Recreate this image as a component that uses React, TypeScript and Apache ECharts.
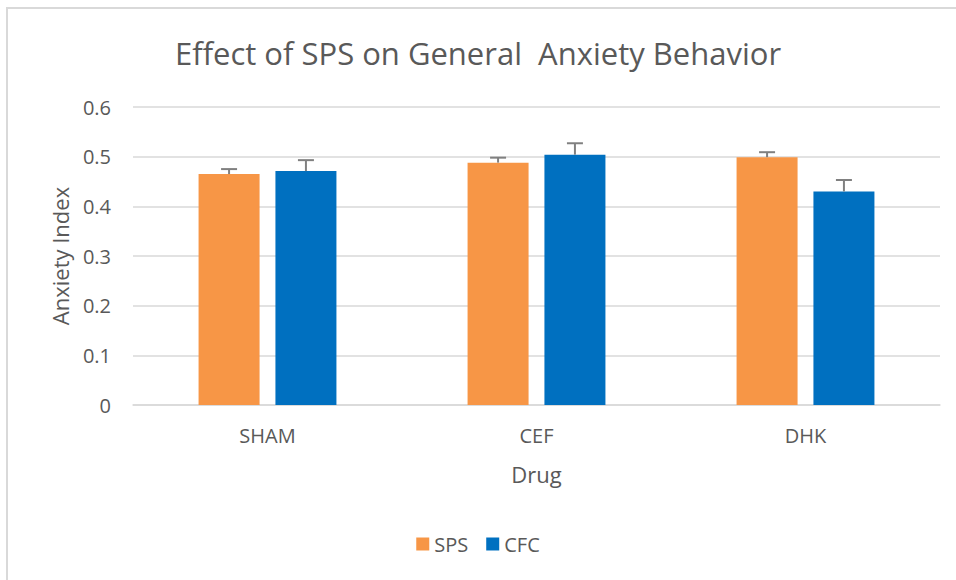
import React, { useEffect, useRef } from "react";
import * as echarts from "echarts";

const categories = ["SHAM", "CEF", "DHK"];
const spsValues = [0.465, 0.488, 0.499];
const spsErrors = [0.01, 0.01, 0.01];
const cfcValues = [0.471, 0.504, 0.43];
const cfcErrors = [0.022, 0.023, 0.023];
const seriesNames = ["SPS", "CFC"];
const yTicks = { min: 0, max: 0.6, interval: 0.1 };

const FONT = "'Open Sans', 'Noto Sans', sans-serif";
const TEXT = "#595959";
const BAR_W = 61;
const BAR_GAP = "26%";

function errorSeries(name: string, values: number[], errs: number[], seriesIndex: number) {
  const data = values.map((v, i) => [i, v, v + errs[i]]);
  return {
    type: "custom",
    name: name + "-err",
    silent: true,
    z: 5,
    renderItem: (params: any, api: any) => {
      const idx = api.value(0);
      const top = api.coord([idx, api.value(2)]);
      const base = api.coord([idx, api.value(1)]);
      const gapPx = BAR_W * 0.26;
      const total = BAR_W * 2 + gapPx;
      const offset = -total / 2 + BAR_W / 2 + seriesIndex * (BAR_W + gapPx);
      const x = top[0] + offset;
      const cap = 8;
      const style = { stroke: "#808080", lineWidth: 2 };
      return {
        type: "group",
        children: [
          { type: "line", shape: { x1: x, y1: base[1], x2: x, y2: top[1] }, style },
          { type: "line", shape: { x1: x - cap, y1: top[1], x2: x + cap, y2: top[1] }, style },
        ],
      };
    },
    data,
  };
}

export default function App() {
  const ref = useRef<HTMLDivElement>(null);
  useEffect(() => {
    if (!ref.current) return;
    const chart = echarts.init(ref.current, undefined, { renderer: "svg" });
    chart.setOption({
      animation: false,
      backgroundColor: "#ffffff",
      textStyle: { fontFamily: FONT },
      graphic: [
        {
          type: "rect",
          shape: { x: 7, y: 8, width: 1000, height: 700 },
          style: { fill: "none", stroke: "#d9d9d9", lineWidth: 2 },
          silent: true,
        },
      ],
      title: {
        text: "Effect of SPS on General  Anxiety Behavior",
        left: "center",
        top: 32,
        textStyle: { fontFamily: FONT, fontSize: 31, fontWeight: "normal", color: TEXT },
      },
      legend: {
        data: seriesNames,
        bottom: 21,
        left: "center",
        itemWidth: 13,
        itemHeight: 13,
        itemGap: 18,
        icon: "rect",
        textStyle: { fontFamily: FONT, fontSize: 20, color: TEXT },
      },
      grid: { left: 133, right: 16, top: 107, bottom: 175 },
      xAxis: {
        type: "category",
        data: categories,
        name: "Drug",
        nameLocation: "middle",
        nameGap: 58,
        nameTextStyle: { fontFamily: FONT, fontSize: 22, color: TEXT },
        axisTick: { show: false },
        axisLine: { lineStyle: { color: "#d9d9d9", width: 1.5 } },
        axisLabel: { fontFamily: FONT, fontSize: 20, color: TEXT, margin: 20 },
      },
      yAxis: {
        type: "value",
        min: yTicks.min,
        max: yTicks.max,
        interval: yTicks.interval,
        name: "Anxiety Index",
        nameLocation: "middle",
        nameGap: 62,
        nameTextStyle: { fontFamily: FONT, fontSize: 22, color: TEXT },
        axisLabel: {
          fontFamily: FONT,
          fontSize: 20,
          color: TEXT,
          margin: 22,
          formatter: (v: number) => (v === 0 ? "0" : v.toFixed(1)),
        },
        splitLine: { lineStyle: { color: "#d9d9d9", width: 1.5 } },
        axisLine: { show: false },
        axisTick: { show: false },
      },
      series: [
        {
          name: seriesNames[0],
          type: "bar",
          data: spsValues,
          barWidth: BAR_W,
          barGap: BAR_GAP,
          itemStyle: { color: "#F79646" },
        },
        {
          name: seriesNames[1],
          type: "bar",
          data: cfcValues,
          barWidth: BAR_W,
          barGap: BAR_GAP,
          itemStyle: { color: "#0070C0" },
        },
        errorSeries(seriesNames[0], spsValues, spsErrors, 0),
        errorSeries(seriesNames[1], cfcValues, cfcErrors, 1),
      ],
    });
    return () => chart.dispose();
  }, []);
  return (
    <div
      ref={ref}
      style={{ position: "absolute", left: 0, top: 0, width: 956, height: 580 }}
    />
  );
}
